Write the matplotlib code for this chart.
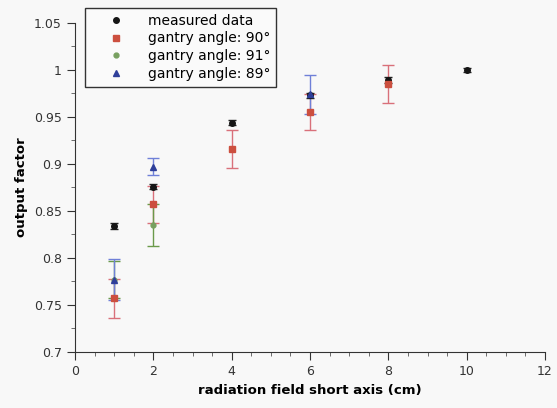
import numpy as np
import matplotlib.pyplot as plt
from matplotlib.ticker import MultipleLocator

# field size (cm) and output factors
x_meas = [1, 2, 4, 6, 8, 10]
of_meas = [0.834, 0.876, 0.944, 0.973, 0.989, 1.000]
err_meas = [0.003, 0.003, 0.003, 0.003, 0.003, 0.002]

x_90 = [1, 2, 4, 6, 8]
of_90 = [0.757, 0.857, 0.916, 0.955, 0.985]
err_90 = [0.021, 0.020, 0.020, 0.019, 0.020]

x_91 = [1, 2]
of_91 = [0.777, 0.835]
err_91 = [0.020, 0.022]

x_89 = [1, 2, 6]
of_89 = [0.777, 0.897, 0.974]
err_89 = [0.022, 0.009, 0.021]

fig = plt.figure(figsize=(5.57, 4.08), dpi=100)
fig.patch.set_facecolor('#f8f8f8')
ax = fig.add_axes([0.1347, 0.1373, 0.8438, 0.8064])
ax.set_facecolor('#f8f8f8')

# error bars first, markers on top
ax.errorbar(x_90, of_90, yerr=err_90, fmt='none', ecolor='#d9707a', capsize=4, lw=1)
ax.errorbar(x_91, of_91, yerr=err_91, fmt='none', ecolor='#6a9a4a', capsize=4, lw=1)
ax.errorbar(x_89, of_89, yerr=err_89, fmt='none', ecolor='#6f80d8', capsize=4, lw=1)
ax.errorbar(x_meas, of_meas, yerr=err_meas, fmt='none', ecolor='#222222', capsize=3, lw=1)

ax.plot(x_meas, of_meas, 'o', color='#151515', ms=4, label='measured data')
ax.plot(x_90, of_90, 's', color='#cc4f3f', ms=5, label='gantry angle: 90°')
ax.plot(x_91, of_91, 'o', color='#78a060', ms=3.5, label='gantry angle: 91°')
ax.plot(x_89, of_89, '^', color='#2f3f9a', ms=5, label='gantry angle: 89°')

ax.set_xlim(0, 12)
ax.set_ylim(0.7, 1.05)
ax.xaxis.set_major_locator(MultipleLocator(2))
ax.xaxis.set_minor_locator(MultipleLocator(0.5))
ax.yaxis.set_minor_locator(MultipleLocator(0.025))
ax.yaxis.set_ticks([0.7, 0.75, 0.8, 0.85, 0.9, 0.95, 1.0, 1.05])
ax.set_yticklabels(['0.7', '0.75', '0.8', '0.85', '0.9', '0.95', '1', '1.05'])

for s in ['top', 'right']:
    ax.spines[s].set_visible(False)
for s in ['left', 'bottom']:
    ax.spines[s].set_color('#333333')
ax.tick_params(which='major', direction='out', length=6, color='#333333',
               labelsize=9, labelcolor='#333333')
ax.tick_params(which='minor', direction='out', length=3, color='#555555')

ax.set_xlabel('radiation field short axis (cm)', fontsize=9.5, fontweight='bold', labelpad=4)
ax.set_ylabel('output factor', fontsize=9.5, fontweight='bold', labelpad=4)

leg = ax.legend(loc='upper left', bbox_to_anchor=(85 / 557, 1 - 8 / 408),
                bbox_transform=fig.transFigure, borderaxespad=0, numpoints=1,
                fontsize=10, fancybox=False, framealpha=1, edgecolor='#333333',
                handlelength=3.7, handletextpad=0.45, labelspacing=0.28,
                borderpad=0.4, facecolor='#fafafa')
leg.get_frame().set_linewidth(1.0)

fig.savefig('out.png', dpi=100, facecolor=fig.get_facecolor())
